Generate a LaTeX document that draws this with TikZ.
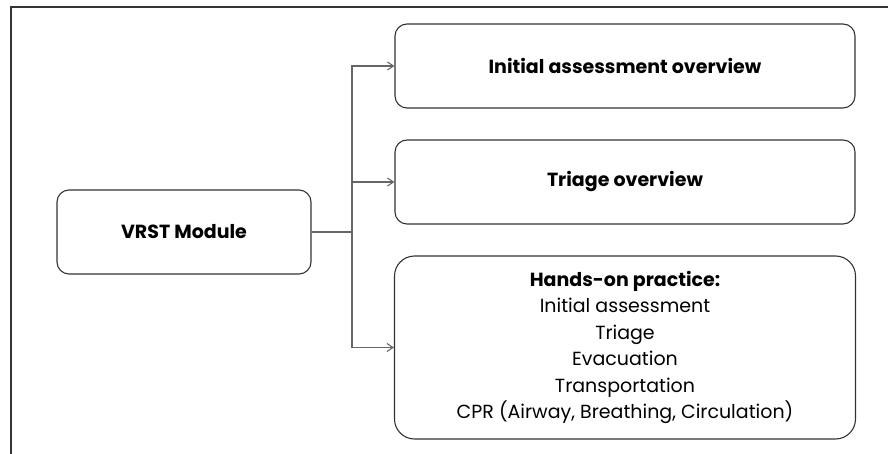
\documentclass[tikz,border=0pt]{standalone}
\usepackage{fontspec}
\setmainfont{Poppins}
\usetikzlibrary{arrows.meta}
\begin{document}
\begin{tikzpicture}[x=1pt,y=-1pt,
  box/.style={draw=black!80, line width=1.1pt, rounded corners=12pt, align=center, inner sep=0pt, text=black},
  conn/.style={draw=black!60, line width=1.1pt},
  arr/.style={conn, -{Straight Barb[length=6pt,width=8pt]}},
  lbl/.style={font=\fontsize{19}{26.5}\selectfont}
]
\useasboundingbox (0,0) rectangle (888,454);
\draw[black!80, line width=2pt] (10.5,454) -- (10.5,7) -- (888,7);
\node[box, lbl, minimum width=254pt, minimum height=84pt] (v) at (184,232) {\bfseries VRST Module};
\node[box, lbl, minimum width=460pt, minimum height=84pt] (b1) at (625,66) {\bfseries Initial assessment overview};
\node[box, lbl, minimum width=460pt, minimum height=84pt] (b2) at (625,182) {\bfseries Triage overview};
\node[box, lbl, rounded corners=20pt, minimum width=461pt, minimum height=183pt] (b3) at (625,347.5)
  {{\bfseries Hands-on practice:}\\Initial assessment\\Triage\\Evacuation\\Transportation\\CPR (Airway, Breathing, Circulation)};
\coordinate (j) at (352,232);
\draw[conn] (v.east) -- (j);
\draw[arr] (j) |- (b1.west);
\draw[arr] (j) |- (b2.west);
\draw[arr] (j) |- (b3.west);
\end{tikzpicture}
\end{document}
